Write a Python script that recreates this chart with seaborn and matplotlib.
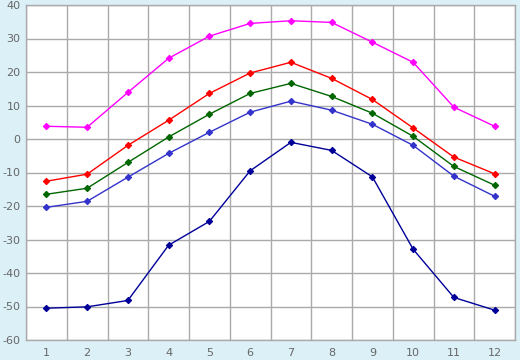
import matplotlib
matplotlib.use("Agg")
import matplotlib.pyplot as plt
import seaborn as sns
import pandas as pd

months = list(range(1, 13))
s_max = [3.8, 3.5, 13.9, 24.1, 30.7, 34.5, 35.3, 34.8, 28.9, 22.9, 9.5, 3.8]
s_high = [-12.6, -10.5, -1.9, 5.6, 13.6, 19.7, 22.9, 18.1, 11.8, 3.3, -5.4, -10.4]
s_mean = [-16.5, -14.7, -7.0, 0.6, 7.4, 13.6, 16.6, 12.7, 7.7, 0.8, -8.2, -13.8]
s_low = [-20.4, -18.6, -11.4, -4.3, 2.0, 8.0, 11.3, 8.6, 4.4, -1.9, -11.1, -17.1]
s_min = [-50.5, -50.1, -48.2, -31.7, -24.6, -9.5, -1.0, -3.4, -11.3, -32.9, -47.3, -51.1]

series_names = ["max", "high", "mean", "low", "min"]
series_vals = [s_max, s_high, s_mean, s_low, s_min]
colors = ["#ff00ff", "#ff0000", "#006600", "#3333cc", "#000099"]

rows = []
for n, vals in zip(series_names, series_vals):
    for m, v in zip(months, vals):
        rows.append({"month": m, "value": v, "series": n})
df = pd.DataFrame(rows)

sns.set_style("white")
plt.rcParams["axes.unicode_minus"] = False
fig = plt.figure(figsize=(5.2, 3.6), dpi=100)
fig.patch.set_facecolor("#dcf0f8")
ax = fig.add_axes([26/520, 20/360, 489/520, 335/360])
ax.set_facecolor("white")

sns.lineplot(data=df, x="month", y="value", hue="series", hue_order=series_names,
             palette=colors, marker="D", markersize=3.2, markeredgewidth=0.8,
             linewidth=1.0, ax=ax, legend=False)
for line, c in zip(ax.lines, colors):
    line.set_markeredgecolor(c)

ax.set_xlim(0.5, 12.5)
ax.set_ylim(-60, 40)
ax.set_xticks(months)
ax.set_xticks([m + 0.5 for m in range(0, 13)], minor=True)
ax.set_yticks(range(-60, 41, 10))
ax.grid(False)
ax.grid(True, which="minor", axis="x", color="#aaaaaa", linewidth=1)
ax.grid(True, which="major", axis="y", color="#aaaaaa", linewidth=1)
ax.set_axisbelow(True)
ax.tick_params(axis="x", which="major", length=4, color="#888888", labelcolor="#666666",
               labelsize=8, pad=2)
ax.tick_params(axis="x", which="minor", length=0)
ax.tick_params(axis="y", length=0, labelcolor="#666666", labelsize=8, pad=4)
for sp in ax.spines.values():
    sp.set_color("#aaaaaa")
    sp.set_linewidth(1)
ax.set_xlabel("")
ax.set_ylabel("")

fig.savefig("out.png", dpi=100, facecolor=fig.get_facecolor())
